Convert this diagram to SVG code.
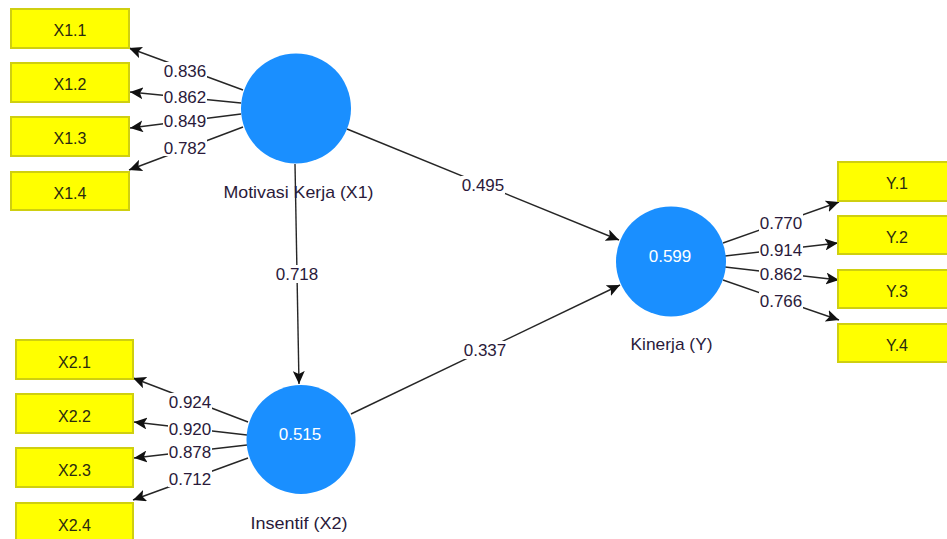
<svg xmlns="http://www.w3.org/2000/svg" width="947" height="539" viewBox="0 0 947 539">
<style>
.ind rect{fill:#ffff00;stroke:#cfcf10;stroke-width:2}
.ind text{font-family:"Liberation Sans",Arial,sans-serif;font-size:16px;fill:#2a2a10;text-anchor:middle}
.lv circle{fill:#1a8fff}
.val{font-family:"Liberation Sans",Arial,sans-serif;font-size:17px;fill:#ffffff;text-anchor:middle}
.name{font-family:"Liberation Sans",Arial,sans-serif;font-size:17px;fill:#2a1a3a;text-anchor:middle}
.conn line{stroke:#262626;stroke-width:1.4;marker-end:url(#ah)}
.lbl rect{fill:#ffffff}
.lbl text{font-family:"Liberation Sans",Arial,sans-serif;font-size:17px;fill:#2a1a3a;text-anchor:middle}
</style>
<defs>
<marker id="ah" markerUnits="userSpaceOnUse" markerWidth="14" markerHeight="12" refX="13" refY="6" orient="auto">
<path d="M0,0 L13,6 L0,12 L3,6 z" fill="#111"/>
</marker>
</defs>
<rect width="947" height="539" fill="#ffffff"/>
<g id="connectors" class="conn">
<line x1="243" y1="90" x2="129" y2="48"/>
<line x1="241" y1="103" x2="130" y2="92"/>
<line x1="241" y1="114" x2="130" y2="128"/>
<line x1="243" y1="127" x2="129" y2="170"/>
<line x1="248" y1="422" x2="133" y2="378"/>
<line x1="247" y1="435" x2="134" y2="422"/>
<line x1="247" y1="445" x2="134" y2="458"/>
<line x1="248" y1="458" x2="133" y2="500"/>
<line x1="723" y1="243" x2="839" y2="202"/>
<line x1="725" y1="256" x2="838" y2="243"/>
<line x1="725" y1="267" x2="839" y2="280"/>
<line x1="723" y1="280" x2="839" y2="320"/>
<line x1="295" y1="164" x2="299" y2="384"/>
<line x1="347" y1="129" x2="619" y2="240"/>
<line x1="351" y1="414" x2="620" y2="285"/>
</g>
<g id="labels" class="lbl">
<rect x="163" y="62" width="44" height="17"/><text x="185" y="76.5">0.836</text>
<rect x="163" y="89" width="44" height="16"/><text x="185" y="103">0.862</text>
<rect x="163" y="113" width="44" height="16"/><text x="185" y="127">0.849</text>
<rect x="163" y="139" width="44" height="17"/><text x="185" y="154">0.782</text>
<rect x="168" y="393" width="44" height="17"/><text x="190" y="408">0.924</text>
<rect x="168" y="420" width="44" height="16"/><text x="190" y="434.5">0.920</text>
<rect x="168" y="444" width="44" height="16"/><text x="190" y="458">0.878</text>
<rect x="168" y="470" width="44" height="17"/><text x="190" y="485">0.712</text>
<rect x="759" y="214" width="44" height="17"/><text x="781" y="229">0.770</text>
<rect x="759" y="242" width="44" height="16"/><text x="781" y="256">0.914</text>
<rect x="759" y="266" width="44" height="16"/><text x="781" y="280">0.862</text>
<rect x="759" y="292" width="44" height="17"/><text x="781" y="307">0.766</text>
<rect x="275" y="265" width="44" height="18"/><text x="297" y="280">0.718</text>
<rect x="461" y="176" width="44" height="18"/><text x="483" y="191">0.495</text>
<rect x="463" y="341" width="44" height="18"/><text x="485" y="356">0.337</text>
</g>
<g id="X1" class="lv"><circle cx="296" cy="108.5" r="55"/><text class="name" x="298.5" y="197.5" textLength="150" lengthAdjust="spacingAndGlyphs">Motivasi Kerja (X1)</text></g>
<g id="X2" class="lv"><circle cx="301" cy="439.5" r="54.5"/><text class="val" x="300" y="440">0.515</text><text class="name" x="299" y="529" textLength="97" lengthAdjust="spacingAndGlyphs">Insentif (X2)</text></g>
<g id="Y" class="lv"><circle cx="671" cy="261.5" r="55"/><text class="val" x="670" y="262">0.599</text><text class="name" x="671.5" y="350" textLength="82" lengthAdjust="spacingAndGlyphs">Kinerja (Y)</text></g>
<g id="X1.1" class="ind"><rect x="11" y="9" width="118" height="39"/><text x="70" y="36">X1.1</text></g>
<g id="X1.2" class="ind"><rect x="11" y="63" width="118" height="39"/><text x="70" y="90">X1.2</text></g>
<g id="X1.3" class="ind"><rect x="11" y="117" width="118" height="39"/><text x="70" y="144">X1.3</text></g>
<g id="X1.4" class="ind"><rect x="11" y="172" width="118" height="38"/><text x="70" y="199">X1.4</text></g>
<g id="X2.1" class="ind"><rect x="16" y="340" width="117" height="39"/><text x="74.5" y="367.5">X2.1</text></g>
<g id="X2.2" class="ind"><rect x="16" y="394" width="117" height="39"/><text x="74.5" y="421.5">X2.2</text></g>
<g id="X2.3" class="ind"><rect x="16" y="448" width="117" height="39"/><text x="74.5" y="475.5">X2.3</text></g>
<g id="X2.4" class="ind"><rect x="16" y="503" width="117" height="39"/><text x="74.5" y="530.5">X2.4</text></g>
<g id="Y.1" class="ind"><rect x="838" y="162" width="118" height="39"/><text x="897" y="189">Y.1</text></g>
<g id="Y.2" class="ind"><rect x="838" y="216" width="118" height="38"/><text x="897" y="243">Y.2</text></g>
<g id="Y.3" class="ind"><rect x="838" y="270" width="118" height="38"/><text x="897" y="297">Y.3</text></g>
<g id="Y.4" class="ind"><rect x="838" y="324" width="118" height="38"/><text x="897" y="351">Y.4</text></g>
</svg>
